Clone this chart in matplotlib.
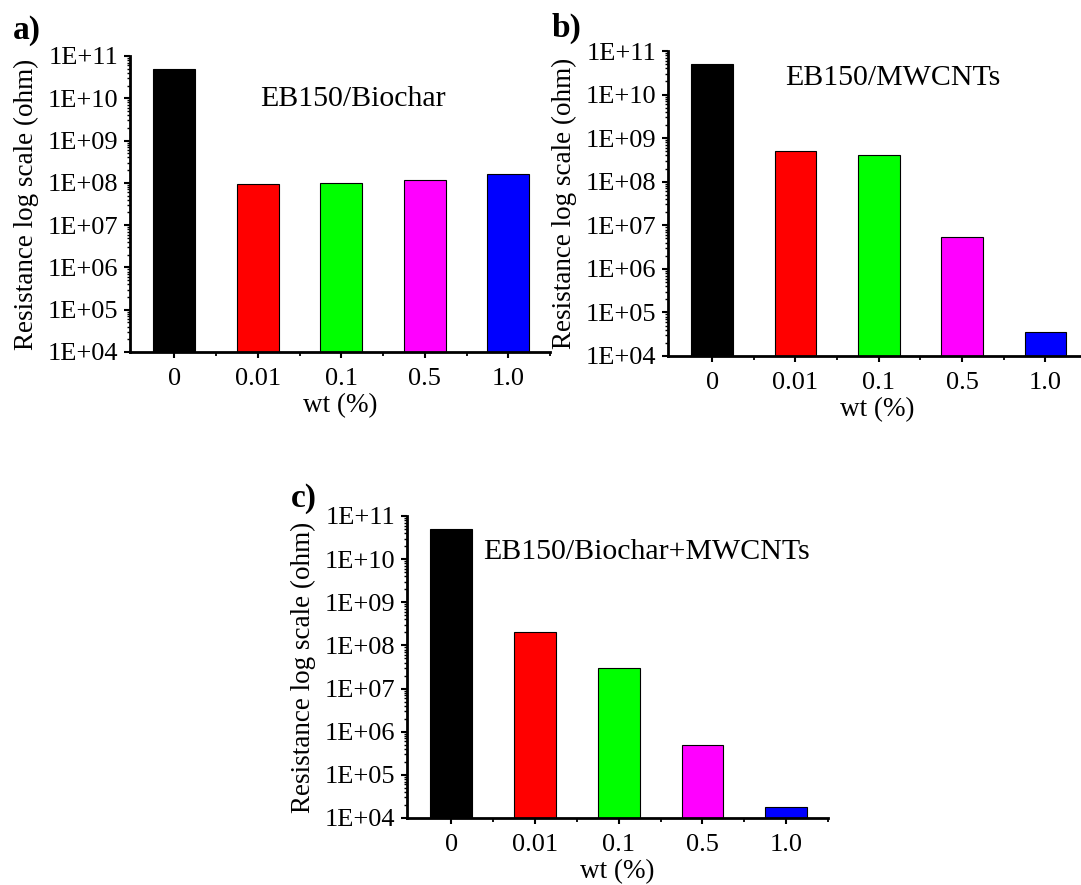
import matplotlib
matplotlib.use("Agg")
import matplotlib.pyplot as plt
from matplotlib.ticker import LogLocator, FixedLocator, NullFormatter

plt.rcParams["font.family"] = ["Liberation Serif", "DejaVu Serif"]

# loadings shared by all three panels
wt_labels = ["0", "0.01", "0.1", "0.5", "1.0"]
bar_colors = ["#000000", "#ff0000", "#00ff00", "#ff00ff", "#0000ff"]

# resistance (ohm)
biochar = [5e10, 9.5e7, 1.0e8, 1.2e8, 1.6e8]
mwcnts = [5e10, 5e8, 4e8, 5.5e6, 3.5e4]
hybrid = [5e10, 2e8, 3e7, 5e5, 1.8e4]

ytick_vals = [1e4, 1e5, 1e6, 1e7, 1e8, 1e9, 1e10, 1e11]
ytick_text = ["1E+04", "1E+05", "1E+06", "1E+07", "1E+08", "1E+09", "1E+10", "1E+11"]

W, H = 1081, 885
fig = plt.figure(figsize=(W / 100, H / 100), dpi=100)


def add_panel(box, values, name, name_xy, letter, letter_xy):
    # box is (left, top, right, bottom) in pixels
    l, t, r, b = box
    ax = fig.add_axes([l / W, 1 - b / H, (r - l) / W, (b - t) / H])
    x = list(range(len(values)))
    ax.bar(x, values, width=0.5, color=bar_colors, edgecolor="black", linewidth=0.8)
    ax.set_yscale("log")
    ax.set_ylim(1e4, 1e11)
    ax.set_xlim(-0.53, 4.5)

    ax.set_yticks(ytick_vals)
    ax.set_yticklabels(ytick_text)
    ax.yaxis.set_minor_locator(LogLocator(base=10, subs=range(2, 10), numticks=20))
    ax.yaxis.set_minor_formatter(NullFormatter())

    ax.set_xticks(x)
    ax.set_xticklabels(wt_labels)
    ax.xaxis.set_minor_locator(FixedLocator([i + 0.5 for i in x]))

    for s in ["top", "right"]:
        ax.spines[s].set_visible(False)
    for s in ["left", "bottom"]:
        ax.spines[s].set_linewidth(2.0)

    ax.tick_params(which="major", direction="out", length=4.5, width=1.5,
                   labelsize=19, pad=4)
    ax.tick_params(axis="y", which="minor", direction="out", length=2.5, width=1.0)
    ax.tick_params(axis="x", which="minor", direction="out", length=3, width=1.3)
    ax.tick_params(axis="x", which="major", pad=7)

    ax.set_xlabel("wt (%)", fontsize=19.5, labelpad=2)
    ax.set_ylabel("Resistance log scale (ohm)", fontsize=19.5, labelpad=6)

    ax.text(name_xy[0], name_xy[1], name, transform=ax.transAxes,
            ha="center", va="center", fontsize=21.5)
    fig.text(letter_xy[0] / W, 1 - letter_xy[1] / H, letter,
             fontsize=24, fontweight="bold", ha="center", va="center")
    return ax


add_panel((130, 56, 550, 352), biochar, "EB150/Biochar", (0.531, 0.855), "a)", (27, 30))
add_panel((668, 51, 1087, 356), mwcnts, "EB150/MWCNTs", (0.537, 0.913), "b)", (567, 28))
add_panel((407, 516, 828, 818), hybrid, "EB150/Biochar+MWCNTs", (0.568, 0.88), "c)", (304, 499))

fig.savefig("out.png", dpi=100)
